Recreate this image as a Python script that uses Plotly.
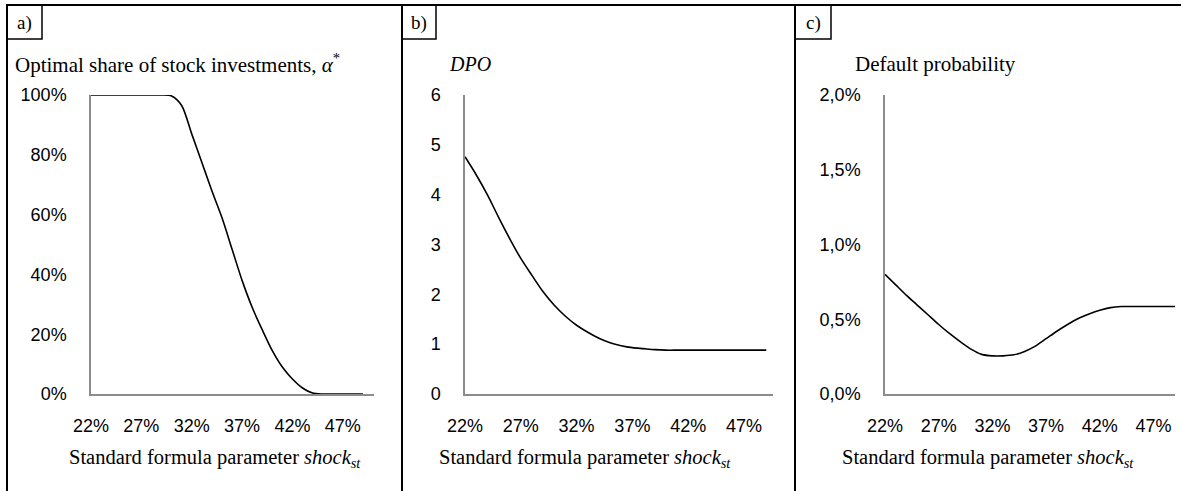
import plotly.graph_objects as go

W, H = 1181, 491

shock = list(range(22, 50))  # 22% .. 49%
tick_vals_x = [22, 27, 32, 37, 42, 47]
tick_text_x = ["22%", "27%", "32%", "37%", "42%", "47%"]

alpha_star = [100, 100, 100, 100, 100, 100, 100, 100, 99.7, 96.5, 87, 77.5, 68, 59, 48.5, 38,
              29, 21.5, 14.5, 9, 5, 2, 0.3, 0, 0, 0, 0, 0]
dpo = [4.76, 4.40, 4.00, 3.55, 3.12, 2.72, 2.38, 2.05, 1.78, 1.56, 1.38, 1.24, 1.12, 1.03,
       0.97, 0.93, 0.91, 0.89, 0.88, 0.88, 0.88, 0.88, 0.88, 0.88, 0.88, 0.88, 0.88, 0.88]
default_prob = [0.80, 0.73, 0.66, 0.595, 0.53, 0.465, 0.405, 0.35, 0.30, 0.265, 0.255, 0.255,
                0.262, 0.285, 0.32, 0.37, 0.42, 0.465, 0.505, 0.535, 0.56, 0.578, 0.585,
                0.585, 0.585, 0.585, 0.585, 0.585]

y1_vals = [0, 20, 40, 60, 80, 100]
y1_text = ["0%", "20%", "40%", "60%", "80%", "100%"]
y2_vals = [0, 1, 2, 3, 4, 5, 6]
y2_text = ["0", "1", "2", "3", "4", "5", "6"]
y3_vals = [0, 0.5, 1.0, 1.5, 2.0]
y3_text = ["0,0%", "0,5%", "1,0%", "1,5%", "2,0%"]

panel_labels = ["a)", "b)", "c)"]
titles = ["Optimal share of stock investments, <i>α</i><sup>*</sup>", "<i>DPO</i>", "Default probability"]
xtitle = "Standard formula parameter <i>shock</i><sub><i>st</i></sub>"


def px(x):
    return x / W


def py(y):
    return 1 - y / H


SANS = "Liberation Sans, Arial, sans-serif"
SERIF = "Liberation Serif, Times New Roman, serif"

fig = go.Figure()
series = [alpha_star, dpo, default_prob]
for i, s in enumerate(series):
    suf = "" if i == 0 else str(i + 1)
    fig.add_trace(go.Scatter(x=shock, y=s, mode="lines", xaxis="x" + suf, yaxis="y" + suf,
                             line=dict(color="black", width=1.6, shape="spline", smoothing=0.8),
                             showlegend=False, hoverinfo="skip"))

plot_x = [(91, 374), (465, 773), (885, 1175)]
x_ranges = [[22, 50.1], [22, 49.6], [22, 49]]
y_ranges = [[0, 100], [0, 6], [0, 2]]
yv = [(y1_vals, y1_text), (y2_vals, y2_text), (y3_vals, y3_text)]
top, bottom = 95, 394

layout = dict(width=W, height=H, margin=dict(l=0, r=0, t=0, b=0, autoexpand=False),
              paper_bgcolor="white", plot_bgcolor="white", showlegend=False)
for i in range(3):
    suf = "" if i == 0 else str(i + 1)
    layout["xaxis" + suf] = dict(domain=[px(plot_x[i][0]), px(plot_x[i][1])], range=x_ranges[i],
                                 anchor="y" + suf, showgrid=False, zeroline=False,
                                 showline=True, linecolor="#8c8c8c", linewidth=1.5,
                                 tickvals=tick_vals_x, ticktext=tick_text_x, ticks="",
                                 ticklabelstandoff=15, automargin=False,
                                 tickfont=dict(family=SANS, size=18, color="black"))
    layout["yaxis" + suf] = dict(domain=[py(bottom), py(top)], range=y_ranges[i],
                                 anchor="x" + suf, showgrid=False, zeroline=False,
                                 showline=True, linecolor="#8c8c8c", linewidth=1.5,
                                 tickvals=yv[i][0], ticktext=yv[i][1], ticks="",
                                 ticklabelstandoff=19, automargin=False,
                                 tickfont=dict(family=SANS, size=18, color="black"))
fig.update_layout(**layout)

# panel frames
shapes = []
shapes.append(dict(type="line", xref="paper", yref="paper", x0=px(6), x1=1, y0=py(5), y1=py(5),
                   line=dict(color="black", width=2)))
for xl in [7, 402, 795]:
    shapes.append(dict(type="line", xref="paper", yref="paper", x0=px(xl), x1=px(xl), y0=py(5), y1=0,
                       line=dict(color="black", width=2)))
label_boxes = [(7, 42), (402, 436), (795, 831)]
for (a, b) in label_boxes:
    shapes.append(dict(type="rect", xref="paper", yref="paper", x0=px(a), x1=px(b), y0=py(39), y1=py(5),
                       line=dict(color="black", width=1.5), fillcolor="rgba(0,0,0,0)"))
fig.update_layout(shapes=shapes)

annotations = []
for (a, b), lab in zip(label_boxes, panel_labels):
    annotations.append(dict(text=lab, x=px((a + b) / 2), y=py(23), xref="paper", yref="paper",
                            xanchor="center", yanchor="middle", showarrow=False,
                            font=dict(family=SERIF, size=19, color="black")))
title_x = [13, 447, 853]
title_sizes = [21, 20, 21]
for tx, t, fs in zip(title_x, titles, title_sizes):
    annotations.append(dict(text=t, x=px(tx), y=py(64), xref="paper", yref="paper",
                            xanchor="left", yanchor="middle", showarrow=False,
                            font=dict(family=SERIF, size=fs, color="black")))
xt_x = [67, 437, 840]
for tx in xt_x:
    annotations.append(dict(text=xtitle, x=px(tx), y=py(458), xref="paper", yref="paper",
                            xanchor="left", yanchor="middle", showarrow=False,
                            font=dict(family=SERIF, size=20.5, color="black")))
fig.update_layout(annotations=annotations)

fig.write_html("out.html", config={"displayModeBar": False},
               post_script="document.body.style.margin='0';")
